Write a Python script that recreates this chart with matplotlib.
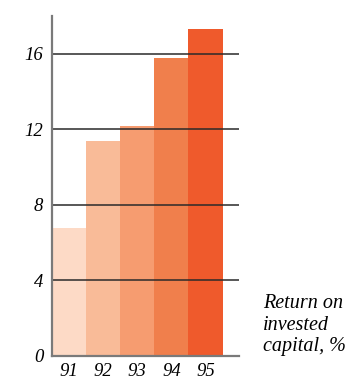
import matplotlib
matplotlib.use("Agg")
import matplotlib.pyplot as plt

years = ["91", "92", "93", "94", "95"]
returns = [6.8, 11.4, 12.2, 15.8, 17.3]
bar_colors = ["#FDDAC6", "#F9BB98", "#F69C70", "#F07F4C", "#EF5A2C"]
y_ticks = [0, 4, 8, 12, 16]
caption = "Return on\ninvested\ncapital, %"

serif = ["Liberation Serif", "DejaVu Serif"]

fig = plt.figure(figsize=(3.45, 3.79), dpi=100)
ax = fig.add_axes([0.150, 0.0607, 0.542, 0.897])

x = list(range(len(years)))
ax.bar(x, returns, width=1.0, color=bar_colors, edgecolor="none", zorder=1)

ax.set_xlim(-0.5, 4.97)
ax.set_ylim(0, 18)

for v in y_ticks[1:]:
    ax.axhline(v, color="#2a2a2a", lw=1.1, zorder=2)

for side in ("top", "right"):
    ax.spines[side].set_visible(False)
for side in ("left", "bottom"):
    ax.spines[side].set_color("#7a7a7a")
    ax.spines[side].set_linewidth(1.6)
    ax.spines[side].set_zorder(3)

ax.set_yticks(y_ticks)
ax.set_yticklabels([str(v) for v in y_ticks], family=serif, style="italic", fontsize=13.5)
ax.set_xticks(x)
ax.set_xticklabels(years, family=serif, style="italic", fontsize=13.5)
ax.tick_params(axis="both", length=0)
ax.tick_params(axis="y", pad=6)
ax.tick_params(axis="x", pad=5)

fig.text(263 / 345, 1 - 325 / 379, caption, family=serif, style="italic",
         fontsize=14.5, ha="left", va="center", linespacing=1.17)

fig.savefig("out.png", dpi=100)
